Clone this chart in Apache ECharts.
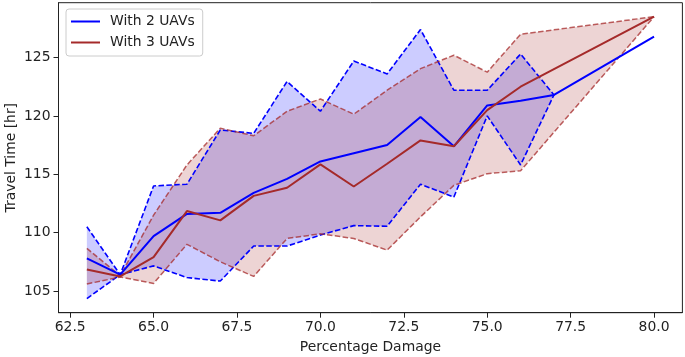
<!DOCTYPE html>
<html>
<head>
<meta charset="utf-8">
<script src="https://cdn.jsdelivr.net/npm/echarts@6/dist/echarts.min.js"></script>
<style>
html,body{margin:0;padding:0;background:#fff;}
#c{width:685px;height:357px;}
</style>
</head>
<body>
<div id="c"></div>
<script>
// ---- data ----
var x2 = [63, 64, 65, 66, 67, 68, 69, 70, 71, 72, 73, 74, 75, 76, 77, 80];
var mean2 = [107.8, 106.4, 109.7, 111.6, 111.7, 113.4, 114.6, 116.1, 116.8, 117.5, 119.9, 117.4, 120.9, 121.3, 121.8, 126.8];
var bandX2 = [63, 64, 65, 66, 67, 68, 69, 70, 71, 72, 73, 74, 75, 76, 77];
var upper2 = [110.5, 106.4, 114.0, 114.15, 118.8, 118.5, 122.95, 120.4, 124.7, 123.6, 127.4, 122.2, 122.2, 125.3, 121.8];
var lower2 = [104.35, 106.4, 107.15, 106.15, 105.85, 108.85, 108.85, 109.8, 110.6, 110.55, 114.15, 113.05, 120.0, 115.8, 121.8];

var x3 = [63, 64, 65, 66, 67, 68, 69, 70, 71, 72, 73, 74, 75, 76, 80];
var mean3 = [106.85, 106.25, 107.9, 111.85, 111.05, 113.15, 113.85, 115.85, 113.95, 115.9, 117.9, 117.4, 120.5, 122.5, 128.5];
var upper3 = [108.65, 106.3, 111.5, 115.8, 118.95, 118.3, 120.4, 121.45, 120.15, 122.2, 124.05, 125.2, 123.75, 127.0, 128.5];
var lower3 = [105.6, 106.2, 105.65, 109.0, 107.5, 106.25, 109.5, 109.9, 109.5, 108.5, 111.35, 114.05, 115.05, 115.3, 128.5];

var xTicks = [62.5, 65.0, 67.5, 70.0, 72.5, 75.0, 77.5, 80.0];
var yTicks = [105, 110, 115, 120, 125];
var seriesNames = ['With 2 UAVs', 'With 3 UAVs'];

// ---- helpers ----
function pairs(xs, ys) { return xs.map(function (x, i) { return [x, ys[i]]; }); }
function bandSeries(xs, up, lo, fill) {
  return {
    type: 'custom',
    coordinateSystem: 'cartesian2d',
    silent: true,
    z: 1,
    data: [[xs[0], up[0]]],
    renderItem: function (params, api) {
      var pts = [];
      for (var i = 0; i < xs.length; i++) pts.push(api.coord([xs[i], up[i]]));
      for (var j = xs.length - 1; j >= 0; j--) pts.push(api.coord([xs[j], lo[j]]));
      return { type: 'polygon', shape: { points: pts }, style: { fill: fill, stroke: null } };
    }
  };
}
function lineSeries(name, xs, ys, color, width, dashed, z) {
  return {
    name: name,
    type: 'line',
    data: pairs(xs, ys),
    showSymbol: false,
    symbol: 'none',
    color: color,
    z: z,
    silent: true,
    animation: false,
    lineStyle: { color: color, width: width, type: dashed ? [5.5, 2.4] : 'solid' }
  };
}

var FONT = 'DejaVu Sans';
var FS = 13.9;
var BLUE = '#0000ff';
var RED = '#a52a2a';
var REDDASH = 'rgba(165,42,42,0.75)';

var chart = echarts.init(document.getElementById('c'), null, { renderer: 'canvas' });
chart.setOption({
  animation: false,
  backgroundColor: '#fff',
  grid: {
    left: 58.5, right: 2.6, top: 2.7, bottom: 44.3,
    outerBoundsMode: 'none',
    containLabel: false,
    show: true, borderColor: '#222', borderWidth: 1, backgroundColor: 'transparent'
  },
  legend: {
    orient: 'vertical',
    left: 66, top: 9,
    padding: [5, 8, 6, 5],
    itemWidth: 29, itemHeight: 2,
    itemGap: 6,
    icon: 'rect',
    backgroundColor: 'rgba(255,255,255,0.8)',
    borderColor: '#cccccc', borderWidth: 1, borderRadius: 3,
    textStyle: { fontFamily: FONT, fontSize: FS, color: '#222', lineHeight: 15, padding: [0, 0, 0, 5] },
    data: [
      { name: seriesNames[0], itemStyle: { color: BLUE } },
      { name: seriesNames[1], itemStyle: { color: RED } }
    ]
  },
  xAxis: {
    type: 'value',
    min: 62.15, max: 80.85,
    name: 'Percentage Damage',
    nameLocation: 'middle',
    nameGap: 28,
    nameMoveOverlap: false,
    nameTextStyle: { fontFamily: FONT, fontSize: FS, color: '#222' },
    axisLine: { show: true, lineStyle: { color: '#222', width: 1 } },
    axisTick: { show: true, length: 5, lineStyle: { color: '#222' }, customValues: xTicks },
    axisLabel: {
      show: true, margin: 8, fontFamily: FONT, fontSize: FS, color: '#222',
      customValues: xTicks,
      formatter: function (v) { return Number(v).toFixed(1); }
    },
    splitLine: { show: false }
  },
  yAxis: {
    type: 'value',
    min: 103.14, max: 129.7,
    name: 'Travel Time [hr]',
    nameLocation: 'middle',
    nameGap: 40,
    nameMoveOverlap: false,
    nameTextStyle: { fontFamily: FONT, fontSize: FS, color: '#222' },
    axisLine: { show: true, lineStyle: { color: '#222', width: 1 } },
    axisTick: { show: true, length: 5, lineStyle: { color: '#222' }, customValues: yTicks },
    axisLabel: {
      show: true, margin: 8, fontFamily: FONT, fontSize: FS, color: '#222',
      customValues: yTicks,
      formatter: function (v) { return String(Math.round(v)); }
    },
    splitLine: { show: false }
  },
  series: [
    bandSeries(bandX2, upper2, lower2, 'rgba(0,0,255,0.2)'),
    bandSeries(x3, upper3, lower3, 'rgba(165,42,42,0.2)'),
    lineSeries('band2u', bandX2, upper2, BLUE, 1.6, true, 3),
    lineSeries('band2l', bandX2, lower2, BLUE, 1.6, true, 3),
    lineSeries('band3u', x3, upper3, REDDASH, 1.5, true, 3),
    lineSeries('band3l', x3, lower3, REDDASH, 1.5, true, 3),
    lineSeries(seriesNames[0], x2, mean2, BLUE, 2, false, 4),
    lineSeries(seriesNames[1], x3, mean3, RED, 2, false, 4)
  ]
});
</script>
</body>
</html>
